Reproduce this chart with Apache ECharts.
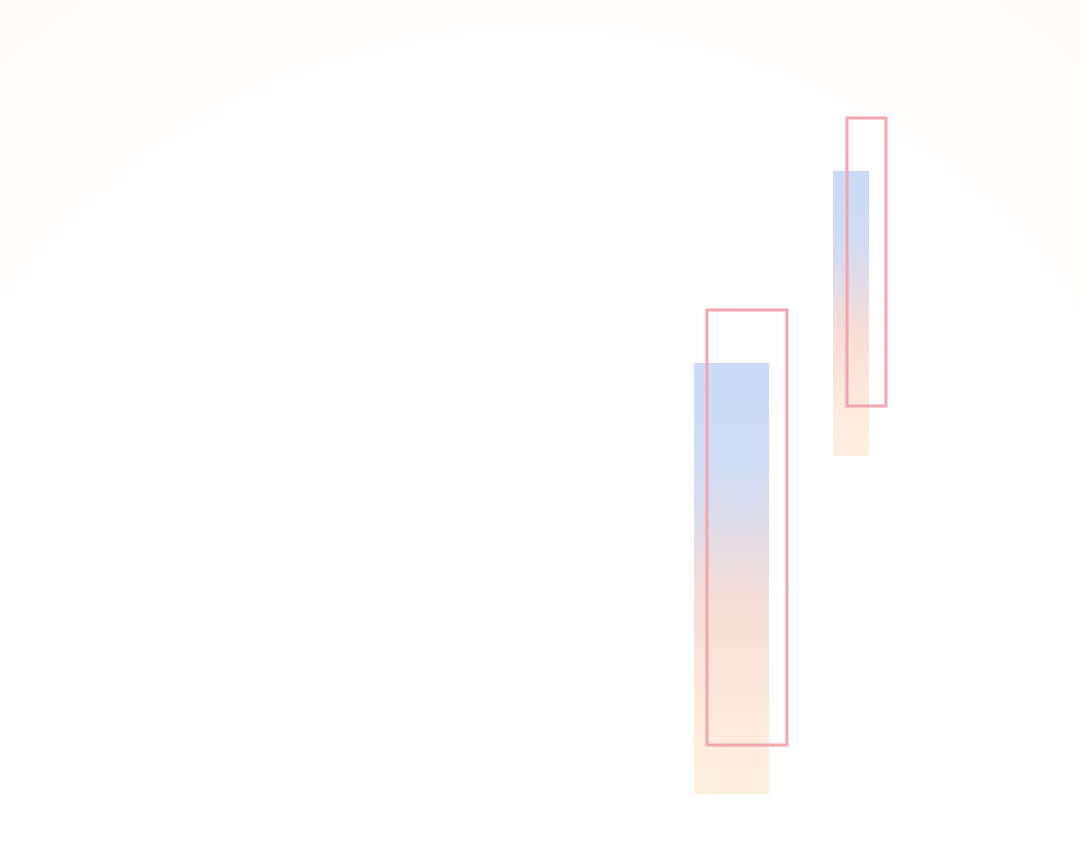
<!DOCTYPE html>
<html>
<head>
<meta charset="utf-8">
<style>
  html, body { margin: 0; padding: 0; background: #ffffff; }
  #chart { width: 1080px; height: 844px; }
</style>
<script src="https://cdn.jsdelivr.net/npm/echarts@6/dist/echarts.min.js"></script>
</head>
<body>
<div id="chart"></div>
<script>
// Filled blocks (gradient rectangles)
const blockStart = [69.4, 83.3];
const blockEnd   = [76.9, 86.9];
const blockLow   = [5.0, 38.8];
const blockHigh  = [48.1, 67.3];

// Outlined frames (offset rectangles)
const frameStart = [70.7, 84.7];
const frameEnd   = [78.7, 88.6];
const frameLow   = [9.9, 43.8];
const frameHigh  = [53.4, 72.6];

const blockData = blockStart.map((s, i) => [s, blockEnd[i], blockLow[i], blockHigh[i]]);
const frameData = frameStart.map((s, i) => [s, frameEnd[i], frameLow[i], frameHigh[i]]);

function rectFrom(api) {
  const p0 = api.coord([api.value(0), api.value(3)]);
  const p1 = api.coord([api.value(1), api.value(2)]);
  return { x: p0[0], y: p0[1], width: p1[0] - p0[0], height: p1[1] - p0[1] };
}

const chart = echarts.init(document.getElementById('chart'));
chart.setOption({
  animation: false,
  backgroundColor: {
    type: 'radial', x: 540, y: 690, r: 900, global: true,
    colorStops: [
      { offset: 0, color: '#ffffff' },
      { offset: 0.68, color: '#ffffff' },
      { offset: 1, color: '#fefaf6' }
    ]
  },
  grid: { left: 0, right: 0, top: 4, bottom: 0 },
  xAxis: { type: 'value', min: 0, max: 108, show: false },
  yAxis: { type: 'value', min: 0, max: 84, show: false },
  series: [
    {
      type: 'custom',
      data: blockData,
      z: 1,
      renderItem: function (params, api) {
        return {
          type: 'rect',
          shape: rectFrom(api),
          style: {
            fill: new echarts.graphic.LinearGradient(0, 0, 0, 1, [
              { offset: 0, color: '#c7d9f8' },
              { offset: 0.25, color: '#cddaf3' },
              { offset: 0.55, color: '#f5dbd5' },
              { offset: 0.8, color: '#fde8da' },
              { offset: 1, color: '#fff0e0' }
            ]),
            opacity: 0.95
          }
        };
      }
    },
    {
      type: 'custom',
      data: frameData,
      z: 2,
      renderItem: function (params, api) {
        return {
          type: 'rect',
          shape: rectFrom(api),
          style: {
            fill: 'rgba(0,0,0,0)',
            stroke: '#f3a5af',
            lineWidth: 3
          }
        };
      }
    }
  ]
});
</script>
</body>
</html>
